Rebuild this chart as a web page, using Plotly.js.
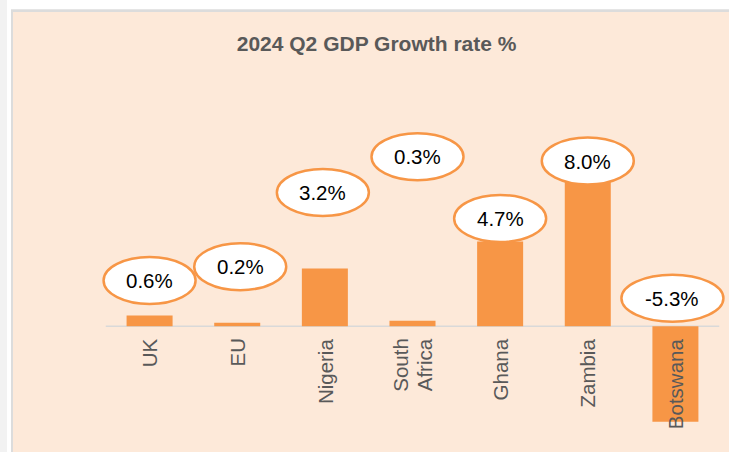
<!DOCTYPE html>
<html><head><meta charset="utf-8">
<script src="https://cdn.plot.ly/plotly-3.0.1.min.js"></script>
<style>html,body{margin:0;padding:0;background:#fff;overflow:hidden;} #chart{width:729px;height:452px;}</style>
</head><body><div id="chart"></div>
<script>
// ---- data ----
const categories = ["UK", "EU", "Nigeria", "South<br>Africa", "Ghana", "Zambia", "Botswana"];
const growth = [0.6, 0.2, 3.2, 0.3, 4.7, 8.0, -5.3];
const valueLabels = ["0.6%", "0.2%", "3.2%", "0.3%", "4.7%", "8.0%", "-5.3%"];
const chartTitle = "2024 Q2 GDP Growth rate %";

// ---- layout config (callout placement in px, relative to bar end / zero) ----
const calloutDy = [35, 56, 76, 164, 23, 21, 28];
const calloutDx = [0, 3, -2, 5, 0, 0, -3];
const calloutW = [92, 92, 92, 92, 92, 92, 102];
const calloutH = 47;

const W = 729, H = 452;
const M = {l: 97, r: 1, t: 128, b: 14};
const xRange = [-0.6, 6.6];
const plotW = W - M.l - M.r, plotH = H - M.t - M.b;
const px2x = px => (px - M.l) / plotW;
const px2y = py => (H - M.b - py) / plotH;

const ORANGE = "#f79646";
const PEACH = "#fde9d9";
const GRAY_TXT = "#595959";
const FONT = "Liberation Sans, Arial, sans-serif";

const shapes = [
  // frame decorations
  {type: "rect", xref: "paper", yref: "paper", layer: "below", x0: px2x(0), x1: px2x(7), y0: px2y(0), y1: px2y(H), fillcolor: "#f2f2f2", line: {width: 0}},
  {type: "rect", xref: "paper", yref: "paper", layer: "below", x0: px2x(11), x1: px2x(W), y0: px2y(9.3), y1: px2y(H), fillcolor: "#dcdcdc", line: {width: 0}},
  {type: "rect", xref: "paper", yref: "paper", layer: "below", x0: px2x(13), x1: px2x(W), y0: px2y(12), y1: px2y(H), fillcolor: PEACH, line: {width: 0}},
  // zero axis line
  {type: "line", xref: "x", yref: "y", layer: "below", x0: -0.5, x1: categories.length - 0.5, y0: 0, y1: 0, line: {color: "#d9d9d9", width: 1.6}}
];
const annotations = [];
const lineStep = 24;

categories.forEach((c, i) => {
  const anchorY = Math.max(growth[i], 0);
  shapes.push({
    type: "circle", xref: "x", yref: "y", layer: "above",
    xsizemode: "pixel", ysizemode: "pixel",
    xanchor: c, yanchor: anchorY,
    x0: calloutDx[i] - calloutW[i] / 2, x1: calloutDx[i] + calloutW[i] / 2,
    y0: calloutDy[i] - calloutH / 2, y1: calloutDy[i] + calloutH / 2,
    fillcolor: "#ffffff", line: {color: ORANGE, width: 2.5}
  });
  annotations.push({
    x: c, y: anchorY, xref: "x", yref: "y", showarrow: false,
    xshift: calloutDx[i], yshift: calloutDy[i],
    xanchor: "center", yanchor: "middle",
    text: valueLabels[i], font: {family: FONT, size: 20.5, color: "#000000"}
  });
  const lines = c.split("<br>");
  lines.forEach((ln, j) => {
    annotations.push({
      x: c, y: 0, xref: "x", yref: "y", showarrow: false,
      xshift: (j - (lines.length - 1) / 2) * lineStep,
      yshift: -10, xanchor: "center", yanchor: "top", textangle: -90,
      text: ln, font: {family: FONT, size: 20.5, color: GRAY_TXT}
    });
  });
});

const trace = {
  type: "bar", x: categories, y: growth,
  marker: {color: ORANGE, line: {width: 0}},
  hoverinfo: "x+y"
};

const layout = {
  width: W, height: H,
  margin: {l: M.l, r: M.r, t: M.t, b: M.b, autoexpand: false},
  paper_bgcolor: "#ffffff", plot_bgcolor: "rgba(0,0,0,0)",
  title: {
    text: "<b>" + chartTitle + "</b>",
    font: {family: FONT, size: 21, color: GRAY_TXT},
    xref: "container", yref: "container", x: 376.6 / W, y: 1 - 44 / H,
    xanchor: "center", yanchor: "middle"
  },
  bargap: 0.475,
  showlegend: false,
  xaxis: {type: "category", range: xRange, showticklabels: false, showgrid: false, zeroline: false, showline: false, ticks: "", fixedrange: true},
  yaxis: {range: [-6.2, 11], showticklabels: false, showgrid: false, zeroline: false, showline: false, ticks: "", fixedrange: true},
  shapes: shapes,
  annotations: annotations
};

Plotly.newPlot("chart", [trace], layout, {displayModeBar: false, staticPlot: true});
</script>
</body></html>
